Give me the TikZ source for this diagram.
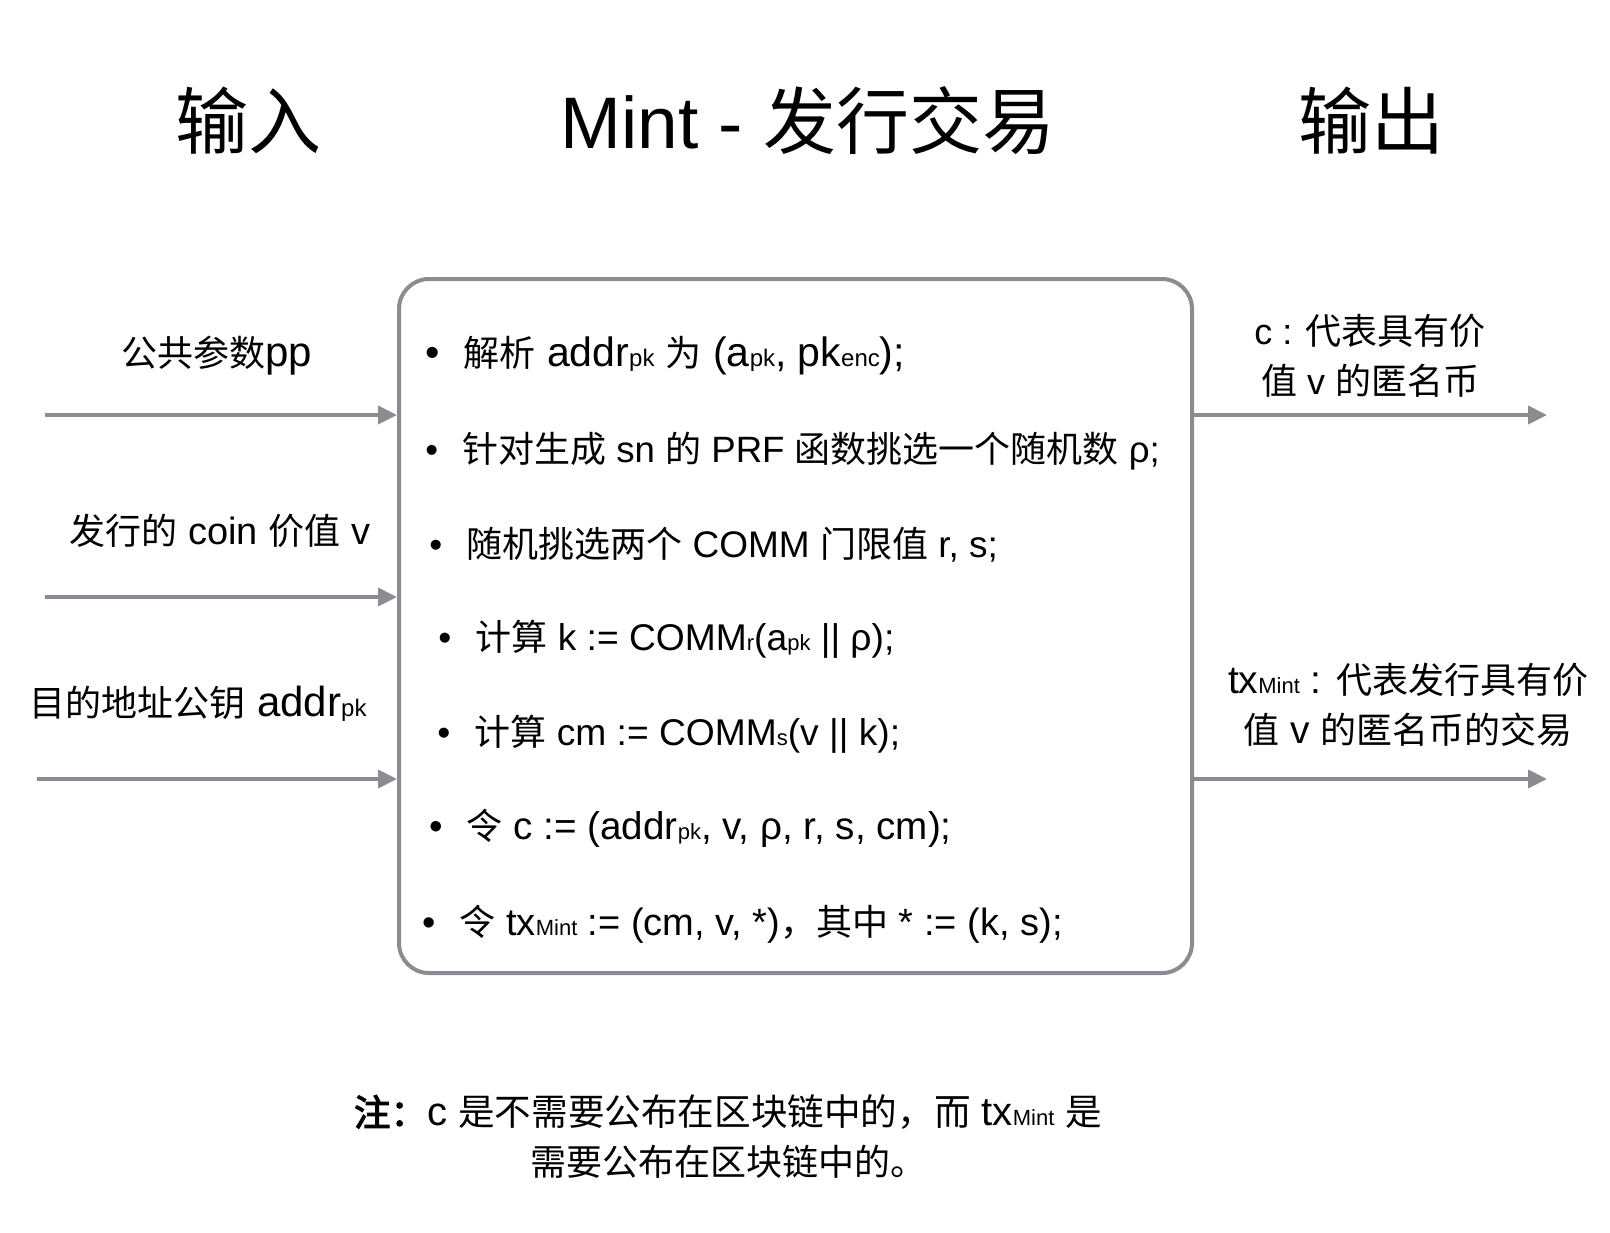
\documentclass[tikz,border=0pt]{standalone}
\usepackage{fontspec}
\setmainfont{Liberation Sans}
\newfontfamily\cjk{Noto Sans CJK SC}
\newfontfamily\cjkbold[FakeBold=3]{Noto Sans CJK SC}
\def\zhsize{18}
\def\subsize{11}
\newcommand\zh[1]{{\cjk\fontsize{\zhsize}{25}\selectfont #1}}
\newcommand\sub[1]{{\fontsize{\subsize}{13}\selectfont #1}}
\usetikzlibrary{positioning,arrows.meta}
\definecolor{linegray}{RGB}{138,140,145}

\begin{document}
\begin{tikzpicture}[
      x=0.5pt, y=-0.5pt,
      every node/.style={font=\fontsize{18}{25}\selectfont, align=center, inner sep=0pt},
      sized/.style={font=\fontsize{#1}{25}\selectfont},
      title/.style={font=\fontsize{36.5}{43}\selectfont},
      mainbox/.style={draw=linegray, line width=2pt, rounded corners=15pt,
                      minimum width=396.5pt, minimum height=347pt},
      item/.style={anchor=west, sized=#1},
      item/.default=18,
      arrow/.style={-{Triangle[length=9.5pt, width=9pt]}, draw=linegray, line width=2pt},
  ]
    \useasboundingbox (0,0) rectangle (1610,1232);

    % titles
    \node[title] (tin)   at (248,121)  {\def\zhsize{36.5}\zh{输入}};
    \node[title] (tmint) at (808,121)  {\def\zhsize{36.5}Mint - \zh{发行交易}};
    \node[title] (tout)  at (1371,121) {\def\zhsize{36.5}\zh{输出}};

    % main box
    \node[mainbox] (box) at (795.5,626) {};

    % steps inside the box
    \node[item=20.5] (s1) at (425,356) {\def\subsize{12}\textbullet\hspace{12pt}\zh{解析} addr\sub{pk} \zh{为} (a\sub{pk}, pk\sub{enc});};
    \node[item=18.3] (s2) at (425,451) {\textbullet\hspace{12pt}\zh{针对生成} sn \zh{的} PRF \zh{函数挑选一个随机数} ρ;};
    \node[item=18.5] (s3) at (429,545) {\textbullet\hspace{12pt}\zh{随机挑选两个} COMM \zh{门限值} r, s;};
    \node[item=18.6] (s4) at (438,639) {\textbullet\hspace{12pt}\zh{计算} k := COMM\sub{r}(a\sub{pk} || ρ);};
    \node[item=18.6] (s5) at (437,734) {\textbullet\hspace{12pt}\zh{计算} cm := COMM\sub{s}(v || k);};
    \node[item=19.3] (s6) at (429,828) {\textbullet\hspace{12pt}\zh{令} c := (addr\sub{pk}, v, ρ, r, s, cm);};
    \node[item=19]   (s7) at (422,924) {\textbullet\hspace{12pt}\zh{令} tx\sub{Mint} := (cm, v, *)\zh{，其中} * := (k, s);};

    % inputs
    \coordinate (in1) at (45,415);
    \coordinate (in2) at (45,597);
    \coordinate (in3) at (37,779);
    \node[sized=21] (pp)    at (217,356) {\zh{公共参数}pp};
    \node[sized=19] (value) at (220,531) {\zh{发行的} coin \zh{价值} v};
    \node[sized=21] (addr)  at (198,704) {\def\subsize{12}\zh{目的地址公钥} addr\sub{pk}};
    \draw[arrow] (in1) -- (in1 -| box.west);
    \draw[arrow] (in2) -- (in2 -| box.west);
    \draw[arrow] (in3) -- (in3 -| box.west);

    % outputs
    \coordinate (out1) at (1547,415);
    \coordinate (out2) at (1547,779);
    \node (coin) at (1370,356) {c : \zh{代表具有价}\\\zh{值} v \zh{的匿名币}};
    \node[sized=19.5] (tx) at (1408,705) {tx\sub{Mint} : \zh{代表发行具有价}\\\zh{值} v \zh{的匿名币的交易}};
    \draw[arrow] (out1 -| box.east) -- (out1);
    \draw[arrow] (out2 -| box.east) -- (out2);

    % note
    \node[sized=20] (note) at (728,1137) {\def\zhsize{18.3}{\cjkbold\fontsize{18.3}{25}\selectfont 注：}c \zh{是不需要公布在区块链中的，而} tx\sub{Mint} \zh{是}\\\zh{需要公布在区块链中的。}};
  \end{tikzpicture}
\end{document}
